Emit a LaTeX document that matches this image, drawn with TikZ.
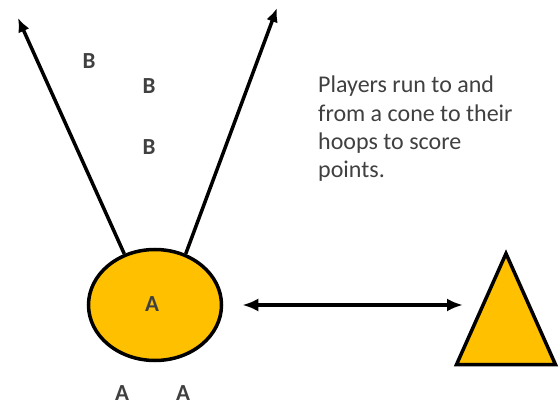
\documentclass[tikz,border=0pt]{standalone}
\usepackage{fontspec}
\setmainfont{Carlito}
\usetikzlibrary{arrows.meta,positioning,shapes.geometric}
\definecolor{hoopgold}{HTML}{FFC000}
\definecolor{textgray}{HTML}{404040}

\begin{document}
\begin{tikzpicture}[
      x=1pt,y=-1pt,
      hoop/.style={draw=black,line width=3.5pt,ellipse,fill=hoopgold,minimum width=133pt,minimum height=111pt,inner sep=0pt},
      cone/.style={draw=black,line width=3.5pt,isosceles triangle,isosceles triangle stretches,shape border rotate=90,fill=hoopgold,minimum width=99pt,minimum height=111pt,inner sep=0pt},
      player/.style={text=textgray,font=\bfseries\fontsize{23}{26}\selectfont,inner sep=0pt},
      run/.style={line width=3.5pt,-{Latex[length=14pt,width=12pt]}},
      shuttle/.style={line width=3.5pt,{Latex[length=16pt,width=13pt]}-{Latex[length=16pt,width=13pt]}}
    ]
    \useasboundingbox (0,0) rectangle (560,406);
    \node[hoop] (h) at (155,305) {};
    \node[player] (ha) at (152,304) {A};
    \node[cone,anchor=apex] (c) at (506,249) {};
    % players waiting
    \node[player] (a1) at (122,393) {A};
    \node[player] (a2) at (183,393) {A};
    \node[player] (b1) at (89,61) {B};
    \node[player] (b2) at (149,86) {B};
    \node[player] (b3) at (149,147) {B};
    % run lines
    \coordinate (tl) at (18,18);
    \coordinate (tr) at (277,8);
    \draw[run] (h.121) -- (tl);
    \draw[run] (h.59) -- (tr);
    \draw[shuttle,shorten <=19pt,shorten >=43pt] (h) -- (h -| c);
    \node[anchor=north west,align=left,text=textgray,font=\fontsize{24}{28.3}\selectfont,inner sep=0pt] (note) at (318,76)
      {Players run to and\\from a cone to their\\hoops to score\\points.};
  \end{tikzpicture}
\end{document}
